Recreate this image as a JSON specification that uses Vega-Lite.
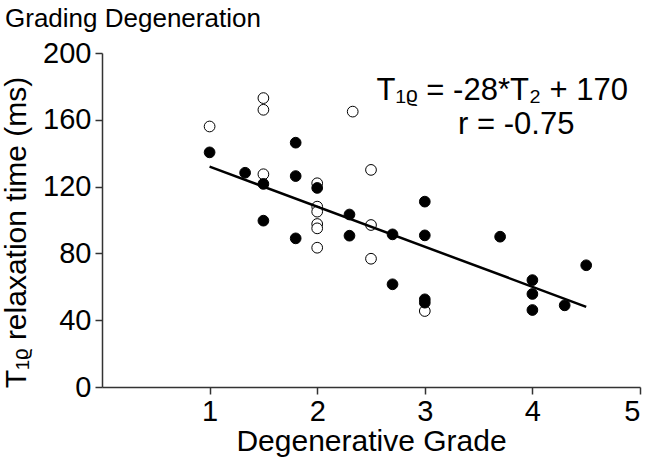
{
  "$schema": "https://vega.github.io/schema/vega-lite/v6.json",
  "width": 538,
  "height": 334,
  "autosize": {"type": "none"},
  "padding": {"left": 102, "top": 53, "right": 11, "bottom": 72},
  "background": "white",
  "title": {
    "text": "Grading Degeneration",
    "anchor": "start",
    "frame": "group",
    "font": "Liberation Sans",
    "fontSize": 26,
    "fontWeight": "normal",
    "color": "#000",
    "dx": -97,
    "offset": 7
  },
  "config": {
    "view": {"stroke": null},
    "font": "Liberation Sans",
    "axis": {
      "grid": false,
      "domainColor": "#333",
      "domainWidth": 1.5,
      "tickColor": "#333",
      "tickWidth": 1.5,
      "tickSize": 7,
      "labelFont": "Liberation Sans",
      "labelFontSize": 29,
      "labelColor": "#000",
      "titleFont": "Liberation Sans",
      "titleFontSize": 30,
      "titleFontWeight": "normal",
      "titleColor": "#000"
    }
  },
  "layer": [
    {
      "data": {
        "values": [
          {"grade": 1.0, "t1rho": 156, "type": "open"},
          {"grade": 1.5, "t1rho": 173, "type": "open"},
          {"grade": 1.5, "t1rho": 166, "type": "open"},
          {"grade": 1.5, "t1rho": 127.4, "type": "open"},
          {"grade": 2.0, "t1rho": 122, "type": "open"},
          {"grade": 2.0, "t1rho": 108, "type": "open"},
          {"grade": 2.0, "t1rho": 105, "type": "open"},
          {"grade": 2.0, "t1rho": 97.6, "type": "open"},
          {"grade": 2.0, "t1rho": 95, "type": "open"},
          {"grade": 2.0, "t1rho": 83.4, "type": "open"},
          {"grade": 2.33, "t1rho": 164.9, "type": "open"},
          {"grade": 2.5, "t1rho": 130, "type": "open"},
          {"grade": 2.5, "t1rho": 97, "type": "open"},
          {"grade": 2.5, "t1rho": 76.8, "type": "open"},
          {"grade": 3.0, "t1rho": 45.5, "type": "open"},
          {"grade": 1.0, "t1rho": 140.5, "type": "filled"},
          {"grade": 1.33, "t1rho": 128.3, "type": "filled"},
          {"grade": 1.5, "t1rho": 121.6, "type": "filled"},
          {"grade": 1.5, "t1rho": 99.6, "type": "filled"},
          {"grade": 1.8, "t1rho": 146.3, "type": "filled"},
          {"grade": 1.8, "t1rho": 126.3, "type": "filled"},
          {"grade": 1.8, "t1rho": 89, "type": "filled"},
          {"grade": 2.0, "t1rho": 119.2, "type": "filled"},
          {"grade": 2.3, "t1rho": 103.3, "type": "filled"},
          {"grade": 2.3, "t1rho": 90.6, "type": "filled"},
          {"grade": 2.7, "t1rho": 91.4, "type": "filled"},
          {"grade": 2.7, "t1rho": 61.5, "type": "filled"},
          {"grade": 3.0, "t1rho": 111, "type": "filled"},
          {"grade": 3.0, "t1rho": 90.8, "type": "filled"},
          {"grade": 3.0, "t1rho": 52.5, "type": "filled"},
          {"grade": 3.0, "t1rho": 50.5, "type": "filled"},
          {"grade": 3.7, "t1rho": 90, "type": "filled"},
          {"grade": 4.0, "t1rho": 64, "type": "filled"},
          {"grade": 4.0, "t1rho": 55.7, "type": "filled"},
          {"grade": 4.0, "t1rho": 46.1, "type": "filled"},
          {"grade": 4.3, "t1rho": 48.9, "type": "filled"},
          {"grade": 4.5, "t1rho": 72.9, "type": "filled"}
        ]
      },
      "mark": {"type": "point", "filled": true, "shape": "circle", "size": 115, "stroke": "#000", "strokeWidth": 1, "opacity": 1},
      "encoding": {
        "x": {
          "field": "grade",
          "type": "quantitative",
          "scale": {"domain": [0, 5], "nice": false, "zero": false},
          "axis": {"values": [1, 2, 3, 4, 5], "format": "d", "title": "Degenerative Grade", "labelPadding": 3, "titlePadding": 0}
        },
        "y": {
          "field": "t1rho",
          "type": "quantitative",
          "scale": {"domain": [0, 200], "nice": false},
          "axis": {
            "values": [0, 40, 80, 120, 160, 200],
            "format": "d",
            "title": "T₁ᵨ relaxation time (ms)",
            "labelPadding": 4,
            "titleX": -77,
            "titleY": 179,
            "titleAngle": -90,
            "titleAlign": "center",
            "titleBaseline": "alphabetic"
          }
        },
        "fill": {
          "field": "type",
          "type": "nominal",
          "scale": {"domain": ["filled", "open"], "range": ["#000000", "#ffffff"]},
          "legend": null
        }
      }
    },
    {
      "data": {
        "values": [
          {"grade": 1.0, "t1rho": 132},
          {"grade": 4.5, "t1rho": 48}
        ]
      },
      "mark": {"type": "line", "color": "#000", "strokeWidth": 2.5},
      "encoding": {
        "x": {"field": "grade", "type": "quantitative"},
        "y": {"field": "t1rho", "type": "quantitative"}
      }
    },
    {
      "data": {"values": [{"label": "T₁ᵨ = -28*T₂ + 170"}]},
      "mark": {"type": "text", "font": "Liberation Sans", "fontSize": 31, "align": "center", "baseline": "alphabetic", "color": "#000"},
      "encoding": {
        "x": {"datum": 3.72},
        "y": {"datum": 172},
        "text": {"field": "label"}
      }
    },
    {
      "data": {"values": [{"label": "r = -0.75"}]},
      "mark": {"type": "text", "font": "Liberation Sans", "fontSize": 31, "align": "center", "baseline": "alphabetic", "color": "#000"},
      "encoding": {
        "x": {"datum": 3.85},
        "y": {"datum": 151.5},
        "text": {"field": "label"}
      }
    }
  ]
}
